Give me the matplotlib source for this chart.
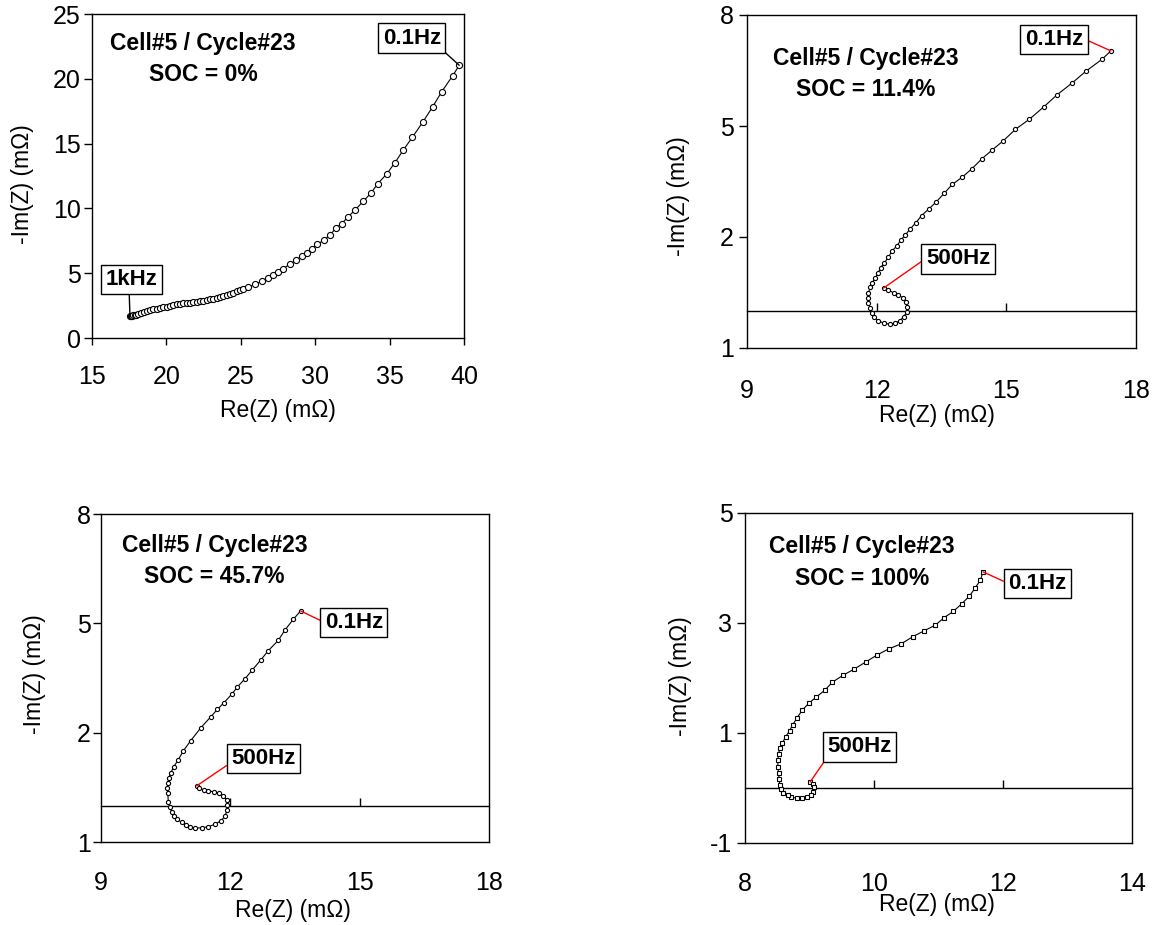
import matplotlib
matplotlib.use("Agg")
import matplotlib.pyplot as plt

plt.rcParams['font.family'] = ['Liberation Sans', 'DejaVu Sans']

W, H = 1164, 925

# ---------------- data (high frequency end -> 0.1 Hz end) ----------------
re1 = [17.55, 17.62, 17.7, 17.78, 17.87, 17.97, 18.11, 18.3, 18.5, 18.7,
       18.9, 19.12, 19.35, 19.57, 19.79, 20.02, 20.24, 20.47, 20.69, 20.92,
       21.14, 21.37, 21.59, 21.82, 22.04, 22.26, 22.48, 22.71, 22.93, 23.15,
       23.38, 23.6, 23.82, 24.05, 24.27, 24.5, 24.72, 24.95, 25.17, 25.5,
       25.95, 26.4, 26.85, 27.18, 27.52, 27.86, 28.3, 28.71, 29.1, 29.43,
       29.76, 30.14, 30.6, 31.0, 31.4, 31.78, 32.22, 32.7, 33.23, 33.73,
       34.2, 34.8, 35.36, 35.92, 36.53, 37.22, 37.9, 38.5, 39.24, 39.68]
im1 = [1.72, 1.72, 1.73, 1.74, 1.76, 1.8, 1.85, 1.95, 2.03, 2.1,
       2.16, 2.21, 2.26, 2.32, 2.37, 2.42, 2.47, 2.53, 2.6, 2.64,
       2.68, 2.7, 2.72, 2.76, 2.8, 2.84, 2.88, 2.95, 3.01, 3.03,
       3.06, 3.15, 3.24, 3.33, 3.42, 3.51, 3.6, 3.68, 3.76, 3.91,
       4.14, 4.37, 4.61, 4.84, 5.09, 5.35, 5.71, 6.0, 6.33, 6.53,
       6.84, 7.23, 7.56, 7.95, 8.49, 8.82, 9.36, 9.9, 10.55, 11.16,
       11.9, 12.65, 13.53, 14.5, 15.49, 16.64, 17.85, 19.0, 20.24, 21.04]

re2 = [12.16, 12.27, 12.39, 12.5, 12.6, 12.67, 12.71, 12.7, 12.63, 12.54,
       12.43, 12.31, 12.16, 12.04, 11.94, 11.89, 11.85, 11.81, 11.79, 11.81,
       11.85, 11.9, 11.96, 12.03, 12.09, 12.17, 12.27, 12.36, 12.47, 12.56,
       12.66, 12.77, 12.91, 13.04, 13.2, 13.38, 13.56, 13.75, 13.97, 14.2,
       14.43, 14.67, 14.93, 15.21, 15.53, 15.86, 16.17, 16.53, 16.84, 17.21,
       17.42]
im2 = [0.62, 0.57, 0.49, 0.43, 0.36, 0.25, 0.12, -0.02, -0.15, -0.26,
       -0.33, -0.36, -0.33, -0.26, -0.17, -0.06, 0.07, 0.21, 0.34, 0.49,
       0.64, 0.77, 0.88, 1.02, 1.17, 1.29, 1.45, 1.63, 1.76, 1.92,
       2.05, 2.21, 2.39, 2.58, 2.75, 2.95, 3.18, 3.42, 3.61, 3.84,
       4.11, 4.35, 4.6, 4.91, 5.18, 5.51, 5.84, 6.17, 6.48, 6.8,
       7.03]

re3 = [11.22, 11.28, 11.38, 11.49, 11.61, 11.74, 11.84, 11.92, 11.93, 11.92,
       11.88, 11.78, 11.65, 11.49, 11.34, 11.18, 11.06, 10.97, 10.87, 10.77,
       10.69, 10.64, 10.59, 10.56, 10.55, 10.54, 10.55, 10.57, 10.62, 10.69,
       10.79, 10.91, 11.08, 11.32, 11.55, 11.7, 11.85, 12.03, 12.16, 12.34,
       12.51, 12.71, 12.88, 13.11, 13.27, 13.46, 13.63]
im3 = [0.54, 0.47, 0.43, 0.4, 0.38, 0.34, 0.26, 0.15, 0.02, -0.12,
       -0.29, -0.42, -0.51, -0.58, -0.61, -0.62, -0.6, -0.53, -0.46, -0.38,
       -0.28, -0.17, -0.03, 0.11, 0.34, 0.47, 0.61, 0.75, 0.9, 1.07,
       1.25, 1.5, 1.78, 2.14, 2.44, 2.64, 2.82, 3.05, 3.25, 3.48,
       3.72, 4.0, 4.25, 4.53, 4.82, 5.11, 5.34]

re4 = [9.01, 9.05, 9.07, 9.06, 9.02, 8.96, 8.88, 8.8, 8.72, 8.66,
       8.59, 8.56, 8.54, 8.53, 8.52, 8.51, 8.51, 8.52, 8.54, 8.58,
       8.63, 8.69, 8.74, 8.81, 8.89, 8.99, 9.1, 9.24, 9.35, 9.52,
       9.69, 9.87, 10.05, 10.23, 10.42, 10.6, 10.78, 10.95, 11.09, 11.23,
       11.36, 11.48, 11.57, 11.65, 11.69]
im4 = [0.11, 0.07, 0.01, -0.07, -0.13, -0.17, -0.19, -0.19, -0.16, -0.13,
       -0.09, -0.02, 0.05, 0.16, 0.27, 0.39, 0.51, 0.62, 0.72, 0.82,
       0.93, 1.04, 1.15, 1.28, 1.42, 1.54, 1.65, 1.78, 1.92, 2.05,
       2.16, 2.29, 2.42, 2.53, 2.62, 2.75, 2.86, 2.96, 3.1, 3.21,
       3.35, 3.49, 3.64, 3.78, 3.93]

titles = ["Cell#5 / Cycle#23\nSOC = 0%", "Cell#5 / Cycle#23\nSOC = 11.4%",
          "Cell#5 / Cycle#23\nSOC = 45.7%", "Cell#5 / Cycle#23\nSOC = 100%"]

xticks1 = [15, 20, 25, 30, 35, 40]
yticks1 = [0, 5, 10, 15, 20, 25]
xticks23 = [9, 12, 15, 18]
yticks23 = [-1, 2, 5, 8]
yticklabels23 = ["1", "2", "5", "8"]
xticks4 = [8, 10, 12, 14]
yticks4 = [-1, 1, 3, 5]
yticklabels4 = ["-1", "1", "3", "5"]

xlabel = "Re(Z) (mΩ)"
ylabel = "-Im(Z) (mΩ)"

fig = plt.figure(figsize=(W / 100, H / 100), dpi=100)


def frac(x, y):
    return (x / W, 1 - y / H)


def make_ax(l, t, r, b):
    return fig.add_axes([l / W, 1 - b / H, (r - l) / W, (b - t) / H])


TICK_FS = 18
LAB_FS = 16.5
TITLE_FS = 16.5
BOX_FS = 16

panels = [
    dict(rect=(92, 14, 464, 338), re=re1, im=im1, xlim=(15, 40), ylim=(0, 25),
         xt=xticks1, yt=yticks1, ytl=[str(v) for v in yticks1], zero=False,
         marker='o', ms=4.4, title=titles[0], tpos=(203, 59),
         ylab=(22, 184), xlab=(278, 410), xpad=14.5, ypad=2,
         labels=[("0.1Hz", (411.7, 38), (1, 0), 'black', -1),
                 ("1kHz", (131.7, 279.5), (0.45, 0), 'black', 0)]),
    dict(rect=(747, 15, 1136, 348), re=re2, im=im2, xlim=(9, 18), ylim=(-1, 8),
         xt=xticks23, yt=yticks23, ytl=yticklabels23, zero=True,
         marker='o', ms=3.0, title=titles[1], tpos=(866, 74),
         ylab=(678.5, 196), xlab=(937, 415), xpad=22, ypad=3.5,
         labels=[("0.1Hz", (1054, 39.5), (1, 0.55), 'red', -1),
                 ("500Hz", (958, 259), (0, 0.53), 'red', 0)]),
    dict(rect=(101, 514, 489, 842), re=re3, im=im3, xlim=(9, 18), ylim=(-1, 8),
         xt=xticks23, yt=yticks23, ytl=yticklabels23, zero=True,
         marker='o', ms=3.0, title=titles[2], tpos=(214.5, 561),
         ylab=(35, 674), xlab=(293.3, 910), xpad=21, ypad=1.5,
         labels=[("0.1Hz", (353.8, 622.5), (0, 0.5), 'red', -1),
                 ("500Hz", (263.5, 758.5), (0, 0.32), 'red', 0)]),
    dict(rect=(745, 513, 1132, 843), re=re4, im=im4, xlim=(8, 14), ylim=(-1, 5),
         xt=xticks4, yt=yticks4, ytl=yticklabels4, zero=True,
         marker='s', ms=2.8, title=titles[3], tpos=(862, 562.5),
         ylab=(681, 676), xlab=(937, 905), xpad=21, ypad=3,
         labels=[("0.1Hz", (1037.5, 583.5), (0, 0.5), 'red', -1),
                 ("500Hz", (859.3, 746.8), (0, 0), 'red', 0)]),
]

for p in panels:
    ax = make_ax(*p['rect'])
    ax.plot(p['re'], p['im'], color='black', lw=0.8, marker=p['marker'],
            ms=p['ms'], mfc='white', mec='black', mew=0.8, zorder=3)
    ax.set_xlim(*p['xlim'])
    ax.set_ylim(*p['ylim'])
    ax.set_yticks(p['yt'])
    ax.set_yticklabels(p['ytl'])
    ax.set_xticks(p['xt'])
    ax.set_xticklabels([str(v) for v in p['xt']])
    for s in ax.spines.values():
        s.set_linewidth(1.0)
        s.set_color('black')
    ax.tick_params(axis='y', direction='out', length=6, width=1,
                   labelsize=TICK_FS, pad=p['ypad'])
    if p['zero']:
        ax.tick_params(axis='x', length=0, labelsize=TICK_FS, pad=p['xpad'])
        loc = (0 - p['ylim'][0]) / (p['ylim'][1] - p['ylim'][0])
        sec = ax.secondary_xaxis(loc)
        sec.set_xticks(p['xt'][1:-1])
        sec.tick_params(axis='x', direction='in', length=5.5, width=1,
                        labelbottom=False)
        sec.spines['bottom'].set_linewidth(1.0)
    else:
        ax.tick_params(axis='x', direction='out', length=5, width=1,
                       labelsize=TICK_FS, pad=p['xpad'])

    fig.text(*frac(*p['tpos']), p['title'], ha='center', va='center',
             fontsize=TITLE_FS, fontweight='bold', linespacing=1.45,
             multialignment='center')
    fig.text(*frac(*p['ylab']), ylabel, rotation=90, ha='center',
             va='center', fontsize=LAB_FS)
    fig.text(*frac(*p['xlab']), xlabel, ha='center', va='center',
             fontsize=LAB_FS)

    for txt, pos, rel, col, idx in p['labels']:
        ax.annotate(txt, xy=(p['re'][idx], p['im'][idx]), xycoords='data',
                    xytext=frac(*pos), textcoords='figure fraction',
                    ha='center', va='center', fontsize=BOX_FS,
                    fontweight='bold',
                    bbox=dict(boxstyle='square,pad=0.2', fc='white',
                              ec='black', lw=1.0),
                    arrowprops=dict(arrowstyle='-', color=col, lw=1.0,
                                    relpos=rel, shrinkA=0, shrinkB=0),
                    zorder=5)

fig.savefig("out.png", dpi=100)
